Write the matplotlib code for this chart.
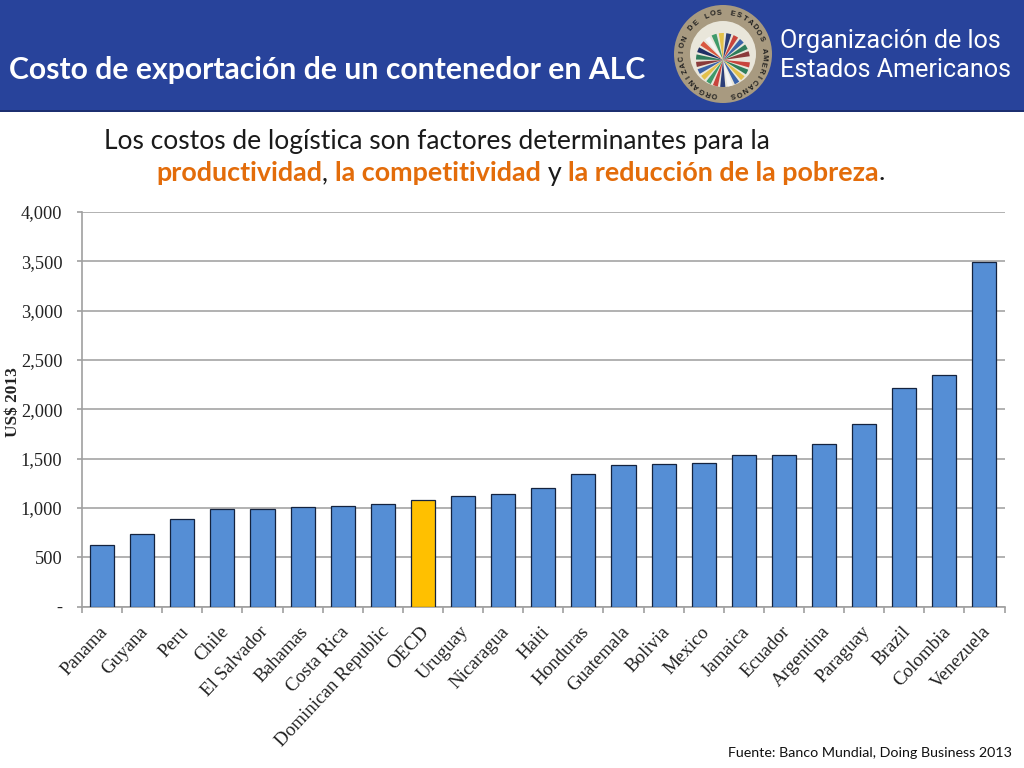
import numpy as np
import matplotlib
matplotlib.use('Agg')
import matplotlib.pyplot as plt
from matplotlib.patches import Rectangle, Circle, Wedge
from matplotlib.ticker import FixedLocator, FuncFormatter
from matplotlib.transforms import ScaledTranslation

countries = ['Panama', 'Guyana', 'Peru', 'Chile', 'El Salvador', 'Bahamas', 'Costa Rica',
             'Dominican Republic', 'OECD', 'Uruguay', 'Nicaragua', 'Haiti', 'Honduras',
             'Guatemala', 'Bolivia', 'Mexico', 'Jamaica', 'Ecuador', 'Argentina', 'Paraguay',
             'Brazil', 'Colombia', 'Venezuela']
costs = [625, 735, 890, 985, 985, 1010, 1020, 1040, 1080, 1125, 1140, 1200, 1340,
         1435, 1440, 1450, 1535, 1535, 1650, 1850, 2215, 2350, 3490]
yticks = [0, 500, 1000, 1500, 2000, 2500, 3000, 3500, 4000]
highlight = 'OECD'

W, H = 1024, 768
fig = plt.figure(figsize=(W / 100, H / 100), dpi=100, facecolor='white')

# page layer in pixel coords, y pointing down like the picture
bg = fig.add_axes([0, 0, 1, 1])
bg.set_xlim(0, W)
bg.set_ylim(H, 0)
bg.axis('off')
bg.add_patch(Rectangle((0, 0), W, 110, color='#28439b', lw=0))
bg.add_patch(Rectangle((0, 110), W, 1.5, color='#1c2f70', lw=0))

sans = 'Lato'
bg.text(9, 70.5, 'Costo de exportación de un contenedor en ALC', color='white', fontsize=21.7,
        fontweight='bold', family=sans, va='center', ha='left')
bg.text(780, 41, 'Organización de los', color='white', fontsize=18.1, family='Roboto',
        va='center', ha='left')
bg.text(780, 70, 'Estados Americanos', color='white', fontsize=18.1, family='Roboto',
        va='center', ha='left')

# seal
cx, cy = 723, 54
bg.add_patch(Circle((cx, cy), 49, color='#a89a80', lw=0))
bg.add_patch(Circle((cx, cy), 33, color='#e9e6da', lw=0))
wedge_cols = ['#c8443c', '#2e7d5b', '#e3c04a', '#3a62a8', '#f4f4f4', '#2c3e78', '#c8443c',
              '#3f9a6a', '#e3c04a', '#3a62a8', '#8a3b3b', '#2e7d5b', '#1f2f66', '#d9573f',
              '#f4f4f4', '#3f9a6a', '#e3c04a', '#2c3e78', '#c8443c', '#3a62a8', '#2e7d5b',
              '#8a3b3b']
for k, col in enumerate(wedge_cols):
    start = 5 + k * 16
    bg.add_patch(Wedge((cx, cy + 6), 27, start, start + 11, color=col, lw=0))
seal_text = 'ORGANIZACION DE LOS ESTADOS AMERICANOS'
for k, ch in enumerate(seal_text):
    ang = np.radians(192 + k * 335 / (len(seal_text) - 1))
    bg.text(cx + 41 * np.sin(ang), cy - 41 * np.cos(ang), ch, fontsize=5.4, color='#1e1e1e',
            family='Liberation Sans', fontweight='bold', ha='center', va='center',
            rotation=-np.degrees(ang))

# subtitle, second line is made of coloured runs
bg.text(104, 142, 'Los costos de logística son factores determinantes para la', fontsize=19,
        family=sans, color='#1a1a1a', va='center', ha='left')
orange = '#e36c0a'
runs = [('productividad', orange, 'bold'), (', ', '#1a1a1a', 'normal'),
        ('la competitividad', orange, 'bold'), (' y ', '#1a1a1a', 'normal'),
        ('la reducción de la pobreza', orange, 'bold'), ('.', '#1a1a1a', 'normal')]
rend = fig.canvas.get_renderer()
x = 156
for txt, col, wgt in runs:
    t = bg.text(x, 173, txt, fontsize=19.4, family=sans, color=col, fontweight=wgt,
                va='center', ha='left')
    x += t.get_window_extent(rend).width

bg.text(1012, 753, 'Fuente: Banco Mundial, Doing Business 2013', fontsize=10.3, family=sans,
        color='#111111', va='center', ha='right')

# chart
ax = fig.add_axes([82 / W, 1 - 606.5 / H, 922.5 / W, 394.5 / H])
ax.set_facecolor('none')
pos = np.arange(len(countries))
cols = ['#ffc000' if c == highlight else '#558ed5' for c in countries]
ax.bar(pos, costs, width=0.6, color=cols, edgecolor='#14233f', linewidth=0.9, zorder=3)
ax.set_xlim(-0.5, len(countries) - 0.5)
ax.set_ylim(0, 4000)

ax.yaxis.set_major_locator(FixedLocator(yticks))
ax.yaxis.set_major_formatter(FuncFormatter(lambda v, p: '-' if v == 0 else f'{int(v):,}'))
ax.grid(axis='y', color='#ababab', linewidth=1.3, zorder=0)
ax.set_axisbelow(True)
for s in ['top', 'right']:
    ax.spines[s].set_visible(False)
for s in ['left', 'bottom']:
    ax.spines[s].set_color('#a0a0a0')
    ax.spines[s].set_linewidth(1.2)
ax.tick_params(axis='y', length=3.6, width=1.2, color='#a0a0a0', labelsize=13.2, pad=10.5,
               labelcolor='#222222')
ax.tick_params(axis='x', which='major', length=0, pad=12, labelsize=13.7, labelcolor='#222222')
ax.tick_params(axis='x', which='minor', length=4.3, width=1.2, color='#a0a0a0')
ax.set_xticks(pos)
ax.set_xticks(np.arange(len(countries) + 1) - 0.5, minor=True)
ax.set_xticklabels(countries, rotation=47, ha='right', rotation_mode='anchor')
shift = ScaledTranslation(-3 / 100, 0, fig.dpi_scale_trans)
for lab in ax.get_xticklabels():
    lab.set_family('Liberation Serif')
    lab.set_transform(lab.get_transform() + shift)
for lab in ax.get_yticklabels():
    lab.set_family('Liberation Serif')

bg.text(13, 402, 'US$ 2013', rotation=90, fontsize=12.4, fontweight='bold',
        family='Liberation Serif', color='#222222', ha='center', va='center')

fig.savefig('out.png', dpi=100)
